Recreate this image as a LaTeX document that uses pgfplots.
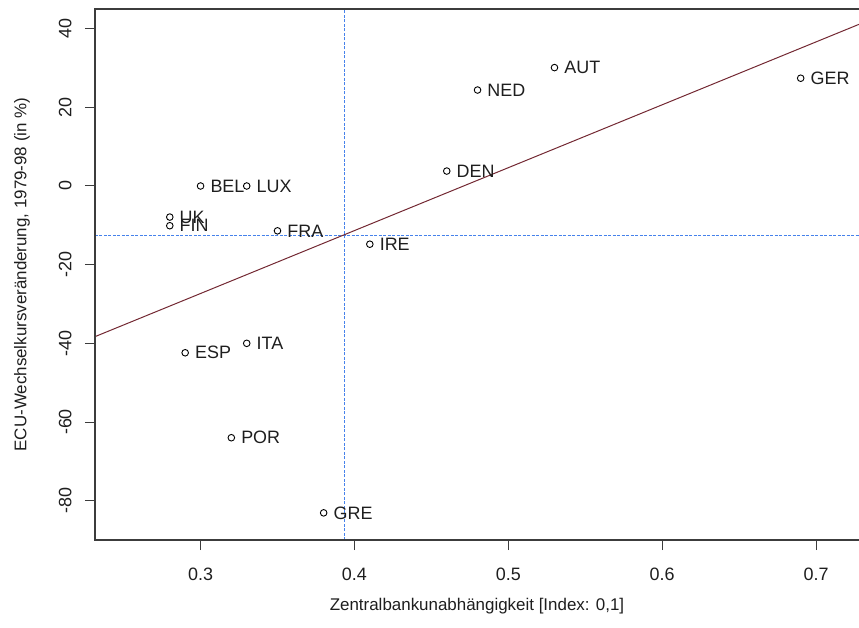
\documentclass[border=0pt]{standalone}
\usepackage{fontspec}
\setmainfont{Liberation Sans}
\usepackage{pgfplots}
\usepackage{pgfplotstable}
\pgfplotsset{compat=1.18}
\definecolor{txt}{RGB}{30,30,30}
\definecolor{axc}{RGB}{60,60,60}
\definecolor{regc}{RGB}{115,40,50}
\definecolor{meanc}{RGB}{70,130,235}

\pgfplotstableread{
x y label
0.69 27.4 GER
0.53 30.1 AUT
0.48 24.4 NED
0.46 3.8 DEN
0.30 0.0 BEL
0.33 0.0 LUX
0.28 -7.9 UK
0.28 -10.1 FIN
0.35 -11.4 FRA
0.41 -14.8 IRE
0.29 -42.4 ESP
0.33 -40.0 ITA
0.32 -64.0 POR
0.38 -83.1 GRE
}\datatable

\begin{document}
\begin{tikzpicture}
\begin{axis}[
  scale only axis, width=764bp, height=531bp,
  at={(0,0)}, anchor=south west,
  xmin=0.2314, xmax=0.7279, ymin=-90, ymax=45,
  clip=false,
  axis line style={draw=none},
  tick pos=left, tick align=outside, major tick length=10bp,
  tick style={axc, line width=1bp},
  /pgf/number format/assume math mode=true,
  xtick={0.3,0.4,0.5,0.6,0.7},
  xticklabels={0.3,0.4,0.5,0.6,0.7},
  ytick={-80,-60,-40,-20,0,20,40},
  yticklabels={-80,-60,-40,-20,0,20,40},
  every tick label/.append style={font=\fontsize{18}{20}\selectfont, text=txt},
  yticklabel style={rotate=90, anchor=south},
  yticklabel shift=10bp,
  xticklabel shift=14bp,
  xlabel={Zentralbankunabhängigkeit [Index: 0,1]},
  ylabel={ECU-Wechselkursveränderung, 1979-98 (in \%)},
  xlabel style={at={(axis description cs:0.5,-0.1250)}, anchor=center, font=\fontsize{17}{20}\selectfont, text=txt},
  ylabel style={at={(axis description cs:-0.0955,0.5)}, anchor=center, rotate=0, font=\fontsize{17}{20}\selectfont, text=txt},
]
% mean lines
\addplot[draw=meanc, line width=0.9bp, dash pattern=on 3bp off 1.5bp] coordinates {(0.3932,-90) (0.3932,45)};
\addplot[draw=meanc, line width=1.2bp, dash pattern=on 3bp off 1.5bp] coordinates {(0.2314,-12.65) (0.7279,-12.65)};
% regression line
\addplot[draw=regc, line width=1bp] coordinates {(0.2314,-38.3) (0.7279,41.1)};
% points
\addplot[only marks, mark=o, mark size=3.3bp, mark options={line width=0.9bp, draw=black},
  nodes near coords, point meta=explicit symbolic,
  every node near coord/.style={anchor=west, inner sep=0pt, xshift=9.5bp, font=\fontsize{18}{20}\selectfont, text=txt}]
  table[x=x, y=y, meta=label] {\datatable};
% box (left, top, bottom)
\draw[axc, line width=1.3bp] (rel axis cs:1,1) -- (rel axis cs:0,1) -- (rel axis cs:0,0) -- (rel axis cs:1,0);
\end{axis}
\pgfresetboundingbox
\useasboundingbox (-95bp,-88bp) rectangle (764bp,540bp);
\end{tikzpicture}
\end{document}
